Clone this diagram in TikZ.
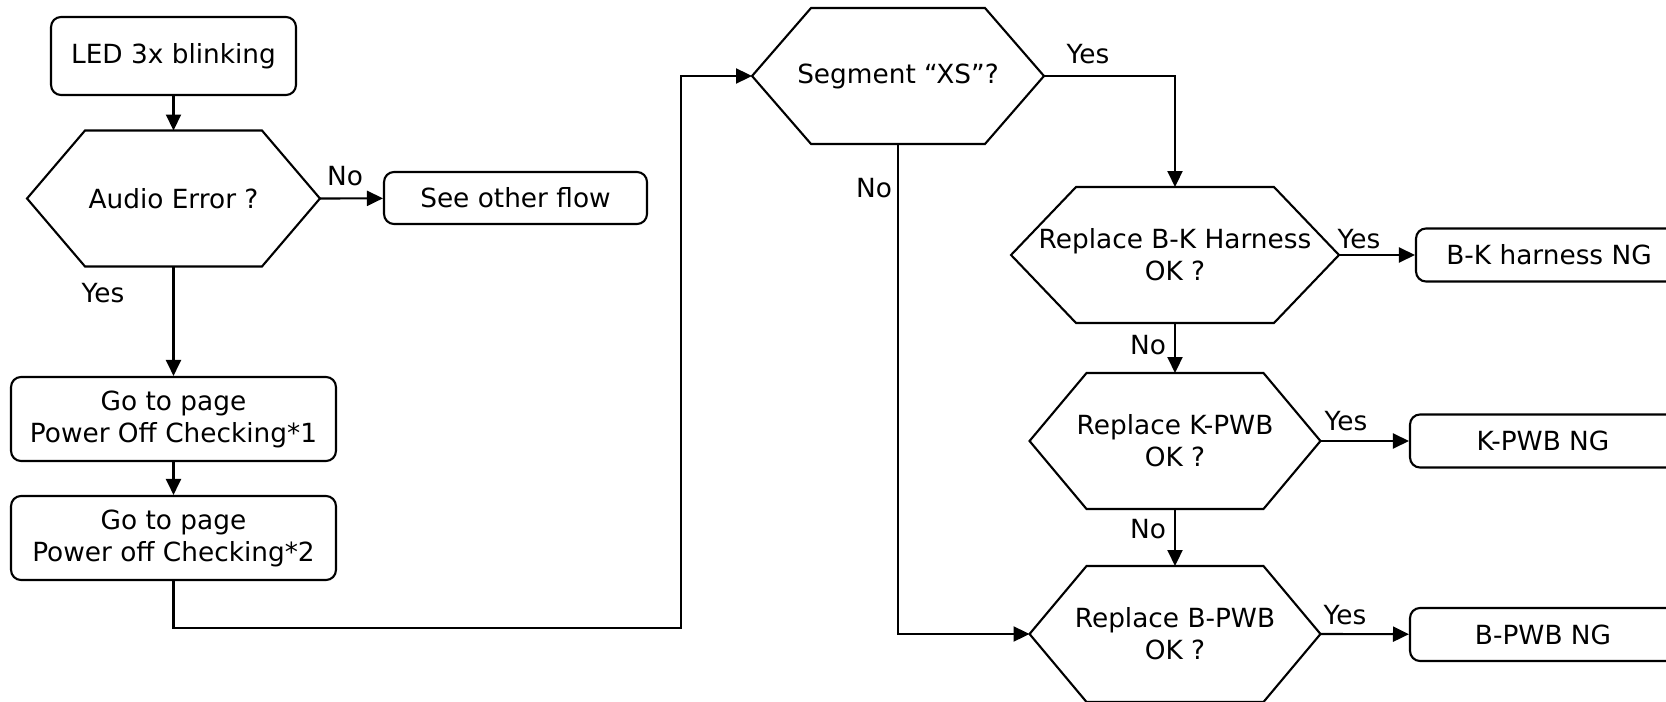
\documentclass[tikz,border=0pt]{standalone}
\usepackage{fontspec}
\setmainfont{DejaVu Sans}
\usetikzlibrary{arrows.meta}

\tikzset{
  box/.style={draw, line width=1.2pt, rounded corners=0.2cm, align=center, inner sep=0pt},
  hexnode/.style={align=center, inner sep=0pt, outer sep=0pt, minimum height=2.72cm},
  arrow/.style={line width=1.2pt, -{Triangle[length=0.32cm,width=0.3cm]}},
  plain/.style={line width=1.2pt},
  lbl/.style={inner sep=0pt},
}
% hexagon round a plain node: name, inset of the slanted sides
\newcommand{\drawhex}[2]{%
  \draw[plain] (#1.west) -- ([xshift=#2]#1.north west) -- ([xshift=-#2]#1.north east)
    -- (#1.east) -- ([xshift=-#2]#1.south east) -- ([xshift=#2]#1.south west) -- cycle;}

\begin{document}
\begin{tikzpicture}[x=0.02cm, y=-0.02cm, every node/.style={font=\fontsize{15}{18.2}\selectfont}]
                    \useasboundingbox (0,0) rectangle (1666,702);
                    % left column
                    \node[box, minimum width=4.9cm, minimum height=1.56cm] (led) at (173.5, 56) {LED 3x blinking};
                    \node[hexnode, minimum width=5.86cm] (aud) at (173.5, 198.5) {Audio Error ?};
                    \node[box, minimum width=5.26cm, minimum height=1.04cm] (other) at (515.5, 198) {See other flow};
                    \node[box, minimum width=6.5cm, minimum height=1.68cm] (pg1) at (173.5, 419) {Go to page\\Power Off Checking*1};
                    \node[box, minimum width=6.5cm, minimum height=1.68cm] (pg2) at (173.5, 538) {Go to page\\Power off Checking*2};
                    \coordinate (turn) at (681, 628);
                    % right part
                    \node[hexnode, minimum width=5.84cm] (seg) at (898, 76) {Segment “XS”?};
                    \node[hexnode, minimum width=6.56cm] (bk) at (1175, 255) {Replace B-K Harness\\OK ?};
                    \node[hexnode, minimum width=5.82cm] (kp) at (1175, 441) {Replace K-PWB\\OK ?};
                    \node[hexnode, minimum width=5.82cm] (bp) at (1175, 634) {Replace B-PWB\\OK ?};
                    \node[box, minimum width=5.32cm, minimum height=1.06cm] (bkng) at (1549, 255) {B-K harness NG};
                    \node[box, minimum width=5.32cm, minimum height=1.06cm] (kpng) at (1543, 441) {K-PWB NG};
                    \node[box, minimum width=5.32cm, minimum height=1.06cm] (bpng) at (1543, 634.5) {B-PWB NG};
                    \drawhex{aud}{1.16cm}
                    \drawhex{seg}{1.18cm}
                    \drawhex{bk}{1.3cm}
                    \drawhex{kp}{1.14cm}
                    \drawhex{bp}{1.14cm}
                    % answers
                    \node[lbl] (no1) at (345, 176) {No};
                    \node[lbl] (yes1) at (103, 293) {Yes};
                    \node[lbl] (yes2) at (1088, 54) {Yes};
                    \node[lbl] (no2) at (874, 188) {No};
                    \node[lbl] (yes3) at (1359, 239) {Yes};
                    \node[lbl] (no3) at (1148, 345) {No};
                    \node[lbl] (yes4) at (1346, 421) {Yes};
                    \node[lbl] (no4) at (1148, 529) {No};
                    \node[lbl] (yes5) at (1345, 615) {Yes};
                    \draw[arrow] (led) -- (aud.north);
                    \draw[arrow] (aud.east) -- (other);
                    \draw[arrow] (aud.south) -- (pg1);
                    \draw[arrow] (pg1) -- (pg2);
                    \draw[arrow] (pg2.south) |- (turn) |- (seg.west);
                    \draw[arrow] (seg.east) -| (bk.north);
                    \draw[arrow] (seg.south) |- (bp.west);
                    \draw[arrow] (bk.east) -- (bkng);
                    \draw[arrow] (bk.south) -- (kp.north);
                    \draw[arrow] (kp.east) -- (kpng);
                    \draw[arrow] (kp.south) -- (bp.north);
                    \draw[arrow] (bp.east) -- (bpng);
                    \end{tikzpicture}
\end{document}
